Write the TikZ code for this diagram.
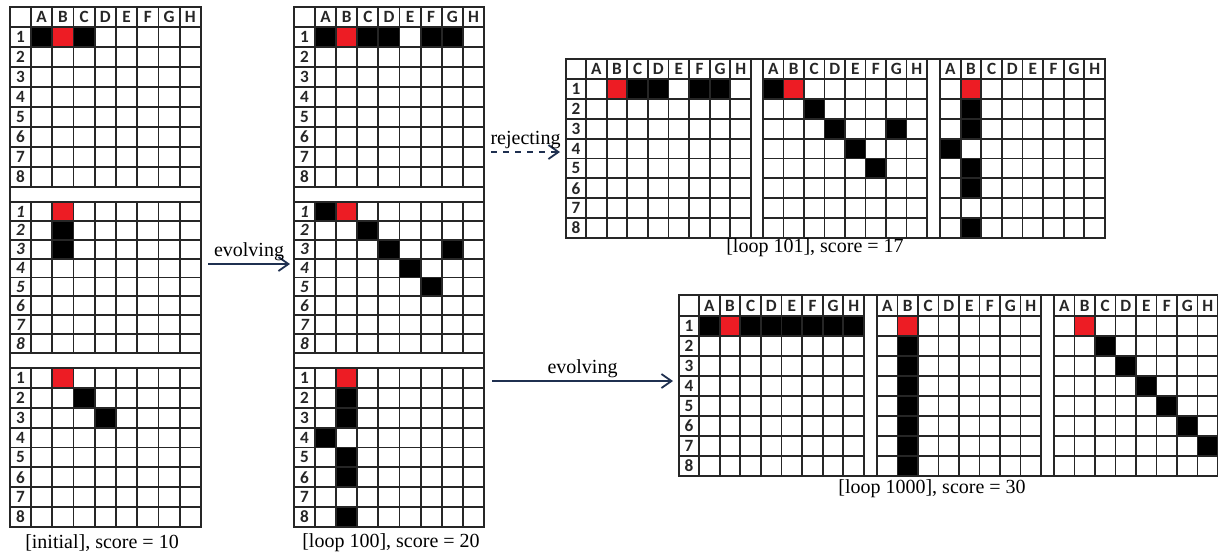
\documentclass[tikz,border=0pt]{standalone}
\usepackage{fontspec}
\setmainfont{Liberation Serif}
\newfontfamily\hdrfont{Carlito}
\usetikzlibrary{arrows.meta}
\definecolor{cellred}{HTML}{ED1C24}
\definecolor{flowblue}{HTML}{1F3050}
\tikzset{
  gridline/.style={draw=black!85,line width=0.9pt},
  hdr/.style={font=\hdrfont\bfseries\fontsize{8.6}{9}\selectfont,text=black!85,inner sep=0pt},
  hdri/.style={font=\hdrfont\bfseries\itshape\fontsize{8.6}{9}\selectfont,text=black!85,inner sep=0pt},
  blk/.style={fill=black},
  redc/.style={fill=cellred},
  caption/.style={font=\fontsize{10}{12}\selectfont},
  flow/.style={draw=flowblue,line width=0.9pt,-{Straight Barb[length=5pt,width=7pt]}},
  lbl/.style={font=\fontsize{10}{12}\selectfont,inner sep=1pt}
}
% #1 x0, #2 y0, #3 cell width, #4 row height, #5 cells col/row/style
\newcommand{\board}[5]{%
  \foreach \cx/\ry/\cl in {#5}{\fill[\cl] ({#1+(\cx-1)*#3},{#2+(\ry-1)*#4}) rectangle +(#3,#4);}
  \foreach \i in {0,...,8}{\draw[gridline] ({#1+\i*#3},#2) -- +(0,{8*#4});}
  \foreach \i in {0,...,8}{\draw[gridline] (#1,{#2+\i*#4}) -- +({8*#3},0);}
}
% #1 prefix, #2 x0, #3 y0, #4 cell width, #5 height
\newcommand{\letters}[5]{%
  \foreach \l [count=\i from 0] in {A,...,H}{%
    \draw[gridline] ({#2+\i*#4},#3) rectangle +(#4,#5);
    \node[hdr] (#1-\l) at ({#2+(\i+.5)*#4},{#3+#5/2}) {\l};}
}
% #1 prefix, #2 x0, #3 y0, #4 width, #5 row height, #6 style
\newcommand{\rownums}[6]{%
  \foreach \n in {1,...,8}{%
    \draw[gridline] (#2,{#3+(\n-1)*#5}) rectangle +(#4,#5);
    \node[#6] (#1-\n) at ({#2+#4/2},{#3+(\n-.5)*#5}) {\n};}
}
\begin{document}
\begin{tikzpicture}[x=0.5pt,y=-0.5pt]
  \useasboundingbox (0,0) rectangle (1218,554);
  % initial
  \draw[gridline] (10,7) rectangle (201,527);
  \draw[gridline] (10,7) rectangle (31,27);
  \letters{ini}{31}{7}{21.25}{20}
  \rownums{inia}{10}{27}{21}{20}{hdr}
  \board{31}{27}{21.25}{20}{1/1/blk,2/1/redc,3/1/blk}
  \rownums{inib}{10}{202}{21}{18.875}{hdri}
  \board{31}{202}{21.25}{18.875}{2/1/redc,2/2/blk,2/3/blk}
  \rownums{inic}{10}{368}{21}{19.875}{hdr}
  \board{31}{368}{21.25}{19.875}{2/1/redc,3/2/blk,4/3/blk}
  \node[caption] (cap-ini) at (102,543) {[initial], score = 10};
  % loop 100
  \draw[gridline] (294,7) rectangle (484,527);
  \draw[gridline] (294,7) rectangle (315,27);
  \letters{hun}{315}{7}{21.125}{20}
  \rownums{huna}{294}{27}{21}{20}{hdr}
  \board{315}{27}{21.125}{20}{1/1/blk,2/1/redc,3/1/blk,4/1/blk,6/1/blk,7/1/blk}
  \rownums{hunb}{294}{202}{21}{18.875}{hdri}
  \board{315}{202}{21.125}{18.875}{1/1/blk,2/1/redc,3/2/blk,4/3/blk,7/3/blk,5/4/blk,6/5/blk}
  \rownums{hunc}{294}{368}{21}{19.875}{hdr}
  \board{315}{368}{21.125}{19.875}{2/1/redc,2/2/blk,2/3/blk,1/4/blk,2/5/blk,2/6/blk,2/8/blk}
  \node[caption] (cap-hun) at (391,543) {[loop 100], score = 20};
  % loop 101
  \draw[gridline] (566,59) rectangle (1105,238);
  \draw[gridline] (566,59) rectangle (586,79);
  \rownums{rej}{566}{79}{20}{19.875}{hdr}
  \letters{reja}{586}{59}{20.625}{20}
  \board{586}{79}{20.625}{19.875}{2/1/redc,3/1/blk,4/1/blk,6/1/blk,7/1/blk}
  \letters{rejb}{763}{59}{20.5}{20}
  \board{763}{79}{20.5}{19.875}{1/1/blk,2/1/redc,3/2/blk,4/3/blk,7/3/blk,5/4/blk,6/5/blk}
  \letters{rejc}{940}{59}{20.625}{20}
  \board{940}{79}{20.625}{19.875}{2/1/redc,2/2/blk,2/3/blk,1/4/blk,2/5/blk,2/6/blk,2/8/blk}
  \node[caption] (cap-rej) at (815,248) {[loop 101], score = 17};
  % loop 1000
  \draw[gridline] (679,295) rectangle (1218,476);
  \draw[gridline] (679,295) rectangle (699,316);
  \rownums{thou}{679}{316}{20}{20}{hdr}
  \letters{thoua}{699}{295}{20.625}{21}
  \board{699}{316}{20.625}{20}{1/1/blk,2/1/redc,3/1/blk,4/1/blk,5/1/blk,6/1/blk,7/1/blk,8/1/blk}
  \letters{thoub}{877}{295}{20.5}{21}
  \board{877}{316}{20.5}{20}{2/1/redc,2/2/blk,2/3/blk,2/4/blk,2/5/blk,2/6/blk,2/7/blk,2/8/blk}
  \letters{thouc}{1054}{295}{20.5}{21}
  \board{1054}{316}{20.5}{20}{2/1/redc,3/2/blk,4/3/blk,5/4/blk,6/5/blk,7/6/blk,8/7/blk}
  \node[caption] (cap-thou) at (932,489) {[loop 1000], score = 30};
  % arrows
  \coordinate (evo1s) at (208,264); \coordinate (evo1e) at (290,264);
  \coordinate (rejs) at (491,152); \coordinate (reje) at (560,152);
  \coordinate (evo2s) at (492,381); \coordinate (evo2e) at (673,381);
  \draw[flow] (evo1s) -- node[lbl,above] (evo1l) {evolving} (evo1e);
  \draw[flow,dashed] (rejs) -- node[lbl,above] (rejl) {rejecting} (reje);
  \draw[flow] (evo2s) -- node[lbl,above] (evo2l) {evolving} (evo2e);
\end{tikzpicture}
\end{document}
